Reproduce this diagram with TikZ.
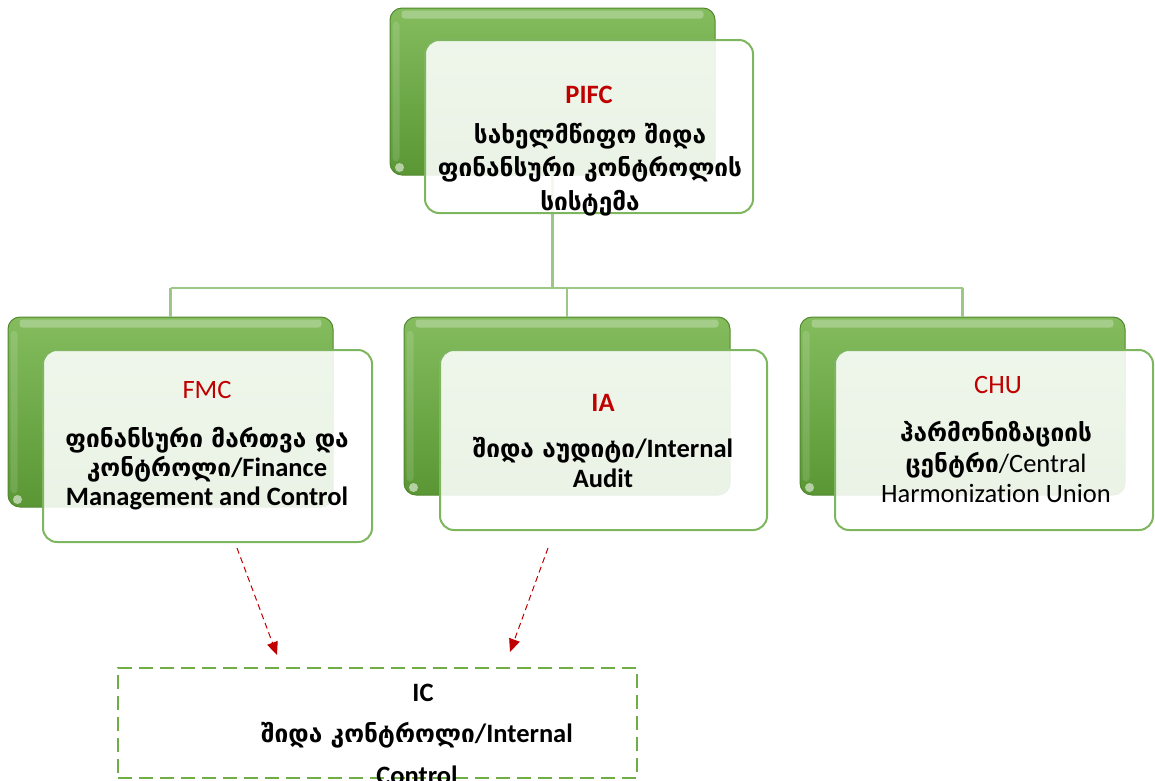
\documentclass[tikz,border=0pt]{standalone}
\usepackage{fontspec}
\setmainfont{Carlito}[Ligatures=NoCommon]
\newfontfamily\geofont{DejaVu Sans}[Scale=0.92]
\newcommand\ka[1]{{\geofont\bfseries #1}}
\usetikzlibrary{arrows.meta,calc}
\definecolor{gbackA}{HTML}{84BC5E}
\definecolor{gbackB}{HTML}{5A9734}
\definecolor{gedge}{HTML}{7DB65F}
\definecolor{conn}{HTML}{9CC784}
\definecolor{redt}{HTML}{C00000}
\definecolor{icg}{HTML}{70AD47}
\tikzset{
  backbox/.style={rounded corners=12pt, top color=gbackA, bottom color=gbackB, draw=gbackB!90!black, line width=1pt, inner sep=0pt},
  frontbox/.style={rounded corners=14pt, draw=gedge, line width=2pt, fill=white, fill opacity=0.88, inner sep=0pt},
  connline/.style={draw=conn, line width=2.2pt},
  titletext/.style={text=redt, font=\fontsize{26.5}{30}\selectfont, inner sep=0pt},
  bodytext/.style={align=center, inner sep=0pt},
  redarrow/.style={draw=redt, line width=1pt, dash pattern=on 6pt off 4pt, -{Triangle[length=13pt,width=11pt,fill=redt]}},
  icbox/.style={draw=icg, line width=2pt, dash pattern=on 14pt off 7pt, inner sep=0pt},
  glosstop/.style={fill=white, fill opacity=0.28, rounded corners=3pt},
  glossleft/.style={fill=white, fill opacity=0.13, rounded corners=4pt},
  glossspot/.style={fill=white, fill opacity=0.55}
}
\newcommand\glossbox[1]{%
  \fill[glosstop] ($(#1.north west)+(12,3)$) rectangle ($(#1.north east)+(-12,11)$);
  \fill[glossleft] ($(#1.north west)+(3,14)$) rectangle ($(#1.south west)+(10,-14)$);
  \fill[glossspot] ($(#1.south west)+(10,-8)$) circle[radius=4.5pt];
}
\begin{document}
\begin{tikzpicture}[x=1pt,y=-1pt]
\useasboundingbox (0,0) rectangle (1155,780);
\clip (0,0) rectangle (1155,780);
% bus coordinates
\coordinate (busL) at (170.5,288);
\coordinate (busR) at (962.5,288);
% back boxes
\node[backbox, minimum width=325pt, minimum height=167pt] (pifcB) at (552.5,91.5) {};
\node[backbox, minimum width=325pt, minimum height=190pt] (fmcB) at (170.5,412) {};
\node[backbox, minimum width=326pt, minimum height=178pt] (iaB) at (567,406) {};
\node[backbox, minimum width=325pt, minimum height=178pt] (chuB) at (962.5,406) {};
\glossbox{pifcB}
\glossbox{fmcB}
\glossbox{iaB}
\glossbox{chuB}
% connectors
\draw[connline] (pifcB.south) -- (pifcB.south |- busL);
\draw[connline] (busL) -- (busR);
\draw[connline] (busL) -- (fmcB.north);
\draw[connline] (iaB.north |- busL) -- (iaB.north);
\draw[connline] (busR) -- (chuB.north);
% front boxes
\node[frontbox, minimum width=328pt, minimum height=173pt] (pifcF) at (589,126.5) {};
\node[frontbox, minimum width=329pt, minimum height=192pt] (fmcF) at (207.5,446) {};
\node[frontbox, minimum width=327pt, minimum height=180pt] (iaF) at (603.5,440) {};
\node[frontbox, minimum width=318pt, minimum height=180pt] (chuF) at (994,440) {};
% texts
\node[titletext, font=\fontsize{26.5}{30}\selectfont\bfseries] (pifcT) at (589,95) {PIFC};
\node[bodytext, font=\fontsize{26.5}{33.5}\selectfont\bfseries] (pifcL) at (590,169.5)
  {\ka{სახელმწიფო შიდა}\\\ka{ფინანსური კონტროლის}\\\ka{სისტემა}};
\node[titletext] (fmcT) at (207,390) {FMC};
\node[bodytext, font=\fontsize{26.5}{29}\selectfont\bfseries] (fmcL) at (207,468.5)
  {\ka{ფინანსური მართვა და}\\\ka{კონტროლი}/Finance\\Management and Control};
\node[titletext, font=\fontsize{26.5}{30}\selectfont\bfseries] (iaT) at (603,403) {IA};
\node[bodytext, font=\fontsize{26.5}{30}\selectfont\bfseries] (iaL) at (603,462)
  {\ka{შიდა აუდიტი}/Internal\\Audit};
\node[titletext] (chuT) at (998,385) {CHU};
\node[bodytext, font=\fontsize{26.5}{30.5}\selectfont] (chuL) at (996,462)
  {\ka{ჰარმონიზაციის}\\\ka{ცენტრი}/Central\\Harmonization Union};
% dashed arrows
\coordinate (a1s) at (237,548);
\coordinate (a1e) at (277,655);
\coordinate (a2s) at (548,548);
\coordinate (a2e) at (510,652);
\draw[redarrow] (a1s) -- (a1e);
\draw[redarrow] (a2s) -- (a2e);
% IC box
\node[icbox, minimum width=519pt, minimum height=110pt] (ic) at (377.5,723) {};
\node[font=\fontsize{26.5}{30}\selectfont\bfseries, inner sep=0pt] (icT) at (423,693) {IC};
\node[bodytext, font=\fontsize{26.5}{42}\selectfont\bfseries, anchor=north] (icL) at (417,722)
  {\ka{შიდა კონტროლი}/Internal\\Control};
\end{tikzpicture}
\end{document}
